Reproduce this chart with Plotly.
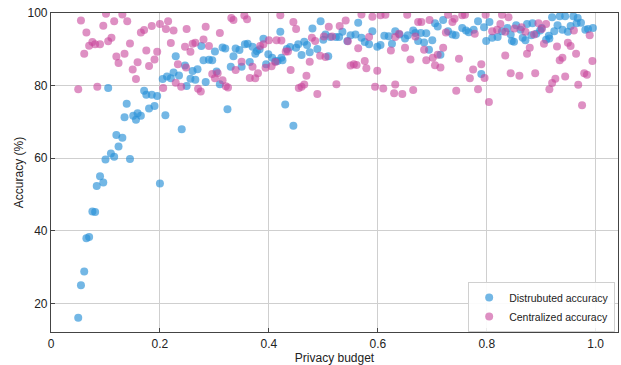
import plotly.graph_objects as go

# Distributed training: (privacy budget, accuracy %)
dist_budget = [
    0.05, 0.055, 0.061, 0.065, 0.07, 0.076, 0.081, 0.084, 0.09, 0.096, 0.10, 0.145, 0.2,
    0.11, 0.116, 0.124, 0.12, 0.131, 0.24, 0.135, 0.156, 0.151, 0.165, 0.159, 0.18, 0.19,
    0.139, 0.21, 0.324, 0.43, 0.445, 0.105, 0.171, 0.175, 0.185, 0.195, 0.205,
    0.213, 0.22, 0.225, 0.235, 0.229, 0.246, 0.249, 0.256, 0.265, 0.26, 0.269, 0.276,
    0.284, 0.28, 0.29, 0.296, 0.301, 0.304, 0.315, 0.32, 0.31, 0.33, 0.335, 0.339, 0.346,
    0.35, 0.356, 0.361, 0.365, 0.37, 0.375, 0.378, 0.383, 0.39, 0.399, 0.395, 0.406,
    0.412, 0.423,
    0.421, 0.416, 0.425, 0.433, 0.439, 0.454, 0.465, 0.45, 0.46, 0.47, 0.475, 0.48,
    0.489, 0.495, 0.50, 0.504, 0.509, 0.513, 0.523, 0.529, 0.535, 0.544, 0.55, 0.559,
    0.564, 0.57, 0.576, 0.584, 0.59, 0.599, 0.605, 0.612, 0.62, 0.626, 0.632,
    0.64, 0.65, 0.655, 0.665, 0.669, 0.674, 0.679, 0.689, 0.685, 0.70, 0.694, 0.705,
    0.71, 0.715, 0.72, 0.729, 0.737, 0.743, 0.755, 0.762, 0.767, 0.776, 0.784, 0.795,
    0.79, 0.799, 0.805, 0.81, 0.82, 0.828, 0.838, 0.844, 0.846,
    0.85, 0.854, 0.862, 0.866, 0.871, 0.874, 0.884, 0.882, 0.891, 0.898, 0.901, 0.909,
    0.915, 0.92, 0.924, 0.93, 0.934, 0.944, 0.939, 0.949, 0.954, 0.959, 0.967, 0.965,
    0.973, 0.981, 0.986, 0.995, 0.914,
]
dist_accuracy = [
    16.0, 25.0, 28.8, 37.9, 38.3, 45.3, 45.2, 52.3, 55.0, 53.3, 59.6, 59.8, 53.0,
    61.3, 60.4, 63.2, 66.4, 65.6, 68.0, 71.3, 70.6, 71.7, 71.7, 72.4, 73.7, 74.4,
    75.0, 71.8, 73.5, 74.8, 68.9, 79.3, 78.6, 77.5, 77.5, 77.1, 81.8,
    82.5, 82.0, 83.6, 82.8, 88.1, 85.5, 79.9, 81.9, 81.6, 84.0, 84.5, 90.9,
    81.0, 87.0, 87.1, 87.0, 89.4, 83.9, 90.5, 90.2, 80.4, 85.2, 88.1, 90.2, 89.8,
    85.2, 91.4, 91.5, 86.5, 90.7, 88.8, 89.5, 90.0, 92.9, 88.6, 85.9, 87.7,
    86.7, 87.7,
    94.8, 86.8, 87.0, 90.1, 90.6, 91.4, 92.1, 90.4, 88.4, 91.2, 89.2, 95.7,
    90.1, 97.7, 92.6, 94.1, 88.1, 93.4, 93.4, 93.4, 94.8, 92.3, 93.9, 94.1,
    97.3, 93.2, 92.0, 91.4, 95.0, 90.7, 91.2, 93.7, 93.6, 91.5, 95.0,
    94.1, 93.0, 93.9, 95.2, 94.5, 92.3, 94.5, 94.4, 91.9, 92.5, 89.9, 97.2,
    96.3, 88.5, 98.1, 95.0, 94.1, 93.9, 95.9, 95.2, 94.7, 95.4, 97.7, 96.1,
    83.2, 92.3, 97.5, 93.2, 93.4, 95.0, 95.9, 94.1, 92.3,
    92.1, 96.6, 95.4, 93.2, 92.5, 97.0, 97.2, 93.9, 94.3, 95.2, 95.9, 92.6,
    93.0, 98.8, 95.0, 96.6, 99.1, 99.1, 95.4, 94.8, 96.4, 99.1, 98.6, 97.2,
    97.3, 95.4, 95.6, 95.9, 93.7,
]

# Centralized training: (privacy budget, accuracy %)
cent_budget = [
    0.05, 0.085, 0.055, 0.061, 0.065, 0.07, 0.076, 0.081, 0.09, 0.096, 0.101, 0.105,
    0.111, 0.116, 0.12, 0.124, 0.131, 0.135, 0.14, 0.145, 0.15, 0.156, 0.159, 0.165,
    0.171, 0.175, 0.18, 0.185, 0.19, 0.195, 0.2, 0.206, 0.211, 0.215, 0.22, 0.225,
    0.229, 0.233, 0.239, 0.246, 0.248, 0.249, 0.256, 0.26, 0.265, 0.27, 0.275, 0.28,
    0.284, 0.29, 0.296, 0.301, 0.306, 0.31, 0.315, 0.321, 0.325, 0.331, 0.335, 0.339,
    0.35, 0.355, 0.36, 0.365, 0.37, 0.375, 0.38, 0.384, 0.39, 0.394, 0.40, 0.405,
    0.412, 0.414, 0.423,
    0.421, 0.445, 0.45, 0.431, 0.435, 0.44, 0.479, 0.485, 0.475, 0.469, 0.455, 0.46,
    0.465, 0.489, 0.494, 0.504, 0.501, 0.51, 0.516, 0.53, 0.541, 0.545, 0.524, 0.564,
    0.57, 0.55, 0.556, 0.561, 0.576, 0.579, 0.584, 0.59, 0.599, 0.595, 0.61, 0.605,
    0.614, 0.624, 0.632, 0.632, 0.63,
    0.654, 0.674, 0.68, 0.695, 0.729, 0.737, 0.741, 0.755, 0.76, 0.798, 0.828, 0.84,
    0.639, 0.669, 0.725, 0.778, 0.81, 0.819, 0.825, 0.834, 0.65, 0.685, 0.72, 0.71,
    0.701, 0.66, 0.689, 0.749, 0.705, 0.715, 0.79, 0.775, 0.796, 0.769, 0.834, 0.844,
    0.645, 0.665, 0.744, 0.784, 0.804,
    0.851, 0.864, 0.871, 0.887, 0.895, 0.901, 0.909, 0.905, 0.879, 0.874, 0.929, 0.949,
    0.954, 0.964, 0.939, 0.934, 0.96, 0.989, 0.994, 0.86, 0.889, 0.926, 0.92, 0.915,
    0.944, 0.979, 0.984, 0.968, 0.975,
]
cent_accuracy = [
    79.0, 79.7, 97.9, 88.8, 94.6, 91.0, 92.0, 91.4, 91.4, 96.5, 99.8, 92.2,
    93.2, 97.7, 88.0, 86.2, 99.6, 88.8, 97.7, 91.6, 84.4, 81.8, 86.4, 94.6,
    95.3, 89.7, 85.4, 96.4, 87.2, 89.3, 97.0, 79.3, 95.6, 97.7, 91.7, 95.2,
    80.8, 85.9, 79.7, 90.7, 85.0, 95.6, 89.3, 91.5, 91.8, 79.1, 78.4, 92.7,
    96.2, 90.9, 83.2, 82.0, 83.4, 94.5, 81.5, 79.8, 79.5, 98.6, 98.1, 84.3,
    86.6, 99.3, 98.3, 82.1, 85.2, 82.0, 83.4, 90.9, 91.4, 84.9, 92.5, 85.3,
    86.5, 92.5, 92.4,
    99.4, 97.5, 95.6, 89.4, 89.4, 84.3, 93.2, 92.3, 86.6, 82.7, 79.3, 79.7,
    80.3, 77.7, 88.2, 87.9, 93.5, 96.2, 93.5, 96.4, 97.9, 92.2, 80.4, 90.3,
    99.6, 85.5, 85.9, 85.7, 86.8, 84.8, 93.4, 99.0, 84.1, 79.7, 79.2, 99.4,
    99.5, 89.7, 93.4, 80.3, 77.9,
    99.5, 97.5, 97.5, 98.1, 99.5, 97.5, 98.4, 99.4, 99.5, 99.5, 99.5, 98.8,
    94.3, 93.5, 94.6, 94.3, 95.0, 95.4, 97.0, 94.8, 90.4, 89.9, 90.4, 88.5,
    87.7, 87.2, 87.0, 87.4, 85.6, 85.0, 85.9, 84.4, 82.1, 82.0, 88.3, 83.4,
    77.7, 78.8, 78.6, 79.0, 75.5,
    95.7, 96.1, 94.8, 94.1, 97.2, 95.6, 97.0, 91.5, 90.4, 88.8, 90.8, 91.8,
    90.9, 88.8, 87.7, 87.0, 95.2, 93.9, 86.8, 82.7, 83.4, 81.9, 80.7, 79.0,
    82.5, 83.4, 83.0, 80.2, 74.6,
]

x_ticks = [0, 0.2, 0.4, 0.6, 0.8, 1.0]
x_tick_labels = ["0", "0.2", "0.4", "0.6", "0.8", "1.0"]
y_ticks = [20, 40, 60, 80, 100]

FONT = "Liberation Sans, Arial, sans-serif"

fig = go.Figure()
fig.add_trace(go.Scatter(
    x=dist_budget, y=dist_accuracy, mode="markers", name="Distrubuted accuracy",
    marker=dict(size=8, color="rgb(40,145,215)", opacity=0.65, line=dict(width=0)),
))
fig.add_trace(go.Scatter(
    x=cent_budget, y=cent_accuracy, mode="markers", name="Centralized accuracy",
    marker=dict(size=8, color="rgb(200,70,155)", opacity=0.6, line=dict(width=0)),
))

axis_common = dict(
    showgrid=True, gridcolor="#cfcfcf", gridwidth=1,
    showline=True, linecolor="#444444", linewidth=1.2, mirror=True,
    ticks="inside", ticklen=4, tickcolor="#444444",
    zeroline=False,
    tickfont=dict(family=FONT, size=12, color="#222222"),
    title_font=dict(family=FONT, size=12, color="#222222"),
)

fig.update_xaxes(
    range=[0, 1.041], tickvals=x_ticks, ticktext=x_tick_labels,
    title_text="Privacy budget", title_standoff=4, **axis_common,
)
fig.update_yaxes(
    range=[12.1, 100], tickvals=y_ticks,
    title_text="Accuracy (%)", title_standoff=1, **axis_common,
)

fig.update_layout(
    width=621, height=365,
    margin=dict(l=51, r=2, t=13, b=30),
    paper_bgcolor="white", plot_bgcolor="white",
    font=dict(family=FONT, size=12, color="#222222"),
    legend=dict(
        x=0.995, y=0.0, xanchor="right", yanchor="bottom",
        bgcolor="rgba(255,255,255,0.9)", bordercolor="#d0d0d0", borderwidth=1,
        font=dict(family=FONT, size=10.5, color="#222222"),
        tracegroupgap=0, itemwidth=30,
    ),
    showlegend=True,
)

fig.write_html("out.html")
